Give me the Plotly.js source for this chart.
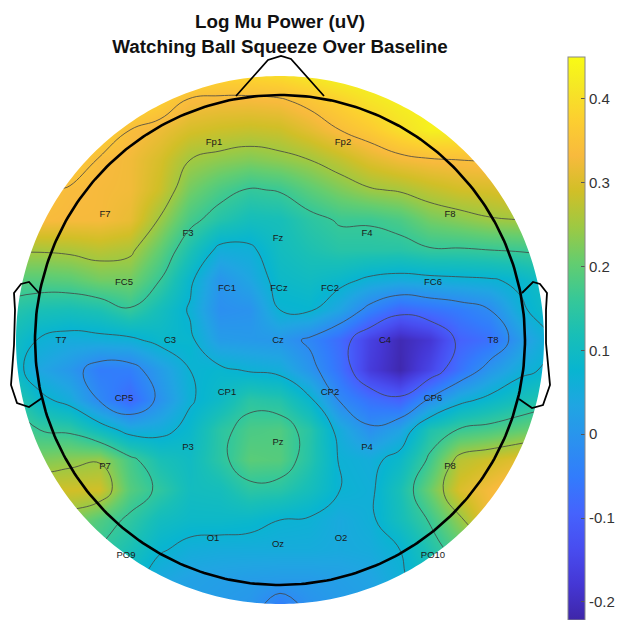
<!DOCTYPE html>
<html><head><meta charset="utf-8">
<script src="https://cdn.plot.ly/plotly-3.0.1.min.js"></script>
<style>html,body{margin:0;padding:0;background:#fff}</style></head>
<body><div id="chart" style="width:618px;height:620px"></div>
<script>
const gridX = [-270,-240,-210,-180,-150,-120,-90,-60,-30,0,30,60,90,120,150,180,210,240,270];
const gridY = [270,240,210,180,150,120,90,60,30,0,-30,-60,-90,-120,-150,-180,-210,-240,-270];
const r01 = [.42,.42,.42,.42,.42,.42,.41,.40,.40,.41,.43,.45,.45,.45,.45,.45,.45,.45,.45];
const r02 = [.42,.42,.42,.41,.40,.375,.335,.33,.33,.335,.355,.38,.41,.43,.44,.45,.45,.45,.45];
const r03 = [.40,.40,.40,.385,.34,.32,.295,.285,.28,.285,.31,.34,.365,.40,.43,.43,.43,.43,.43];
const r04 = [.38,.38,.37,.335,.325,.295,.25,.235,.225,.235,.25,.275,.305,.325,.335,.34,.345,.36,.38];
const r05 = [.36,.35,.335,.33,.325,.285,.215,.18,.155,.164,.195,.222,.245,.255,.275,.29,.295,.31,.32];
const r06 = [.34,.335,.33,.33,.315,.245,.175,.135,.11,.115,.145,.165,.165,.18,.215,.23,.245,.25,.26];
const r07 = [.255,.255,.26,.27,.26,.20,.125,.055,.06,.105,.125,.14,.14,.14,.155,.155,.16,.165,.17];
const r08 = [.19,.19,.195,.215,.215,.16,.08,.0,.035,.09,.10,.085,.06,.05,.055,.06,.065,.08,.11];
const r09 = [.14,.12,.115,.125,.155,.11,.065,-.012,-.005,.07,.075,.03,-.04,-.09,-.07,-.05,-.02,.06,.10];
const r10 = [.11,.065,.05,.055,.06,.085,.08,.015,.01,.005,-.03,-.08,-.16,-.21,-.18,-.095,-.07,.01,.07];
const r11 = [.10,.035,.005,-.05,-.045,.015,.07,.08,.065,.055,.0,-.07,-.17,-.215,-.15,-.065,.005,.055,.08];
const r12 = [.16,.085,.05,-.025,-.085,-.005,.065,.095,.145,.135,.08,-.025,-.07,-.095,-.01,.055,.085,.115,.14];
const r13 = [.19,.16,.15,.10,.05,.055,.085,.145,.18,.185,.14,.05,-.01,.03,.13,.165,.18,.20,.22];
const r14 = [.26,.225,.235,.245,.175,.12,.10,.145,.195,.19,.135,.065,.055,.09,.17,.27,.29,.31,.33];
const r15 = [.33,.29,.29,.29,.19,.15,.105,.11,.145,.14,.11,.07,.06,.12,.21,.30,.33,.36,.37];
const r16 = [.24,.24,.23,.185,.15,.105,.09,.09,.085,.07,.065,.045,.06,.11,.165,.24,.33,.36,.36];
const r17 = [.20,.19,.17,.155,.12,.075,.055,.05,.05,.05,.05,.045,.05,.07,.13,.19,.22,.24,.24];
const r18 = [.15,.15,.13,.11,.09,.04,.025,.02,.015,.012,.012,.02,.03,.06,.10,.14,.18,.20,.20];
const r19 = [.10,.10,.09,.08,.06,.04,.02,.01,0,-.06,-.01,.01,.02,.04,.07,.10,.13,.15,.15];
const zGrid = [r01,r02,r03,r04,r05,r06,r07,r08,r09,r10,r11,r12,r13,r14,r15,r16,r17,r18,r19];

const electrodes = ['Fp1','Fp2','F7','F3','Fz','F4','F8','FC5','FC1','FCz','FC2','FC6','T7','C3','Cz','C4','T8','CP5','CP1','CP2','CP6','P3','Pz','P4','P7','P8','O1','Oz','O2','PO9','PO10'];
const electrodeX = [-66,63,-175,-92,-2,87,170,-156,-53,-1,50,153,-219,-110,-2,105,213,-156,-53,50,153,-92,-2,87,-175,170,-67,-2,61,-154,153];
const electrodeY = [197,197,125,106,101,106,125,57,51,51,51,57,-1,-1,-1,-1,-1,-59,-53,-53,-59,-108,-103,-108,-127,-127,-199,-205,-199,-216,-216];

const noseX = [-44,-12,1,11,44];
const noseY = [244,280,284,281,244];
const earLeftX = [-241,-251,-259,-266,-265,-266,-269,-263,-251,-238];
const earLeftY = [47,58,56,47,30,-5,-45,-63,-67,-58];
const earRightX = [242,253,260,267,266,266,270,263,252,239];
const earRightY = [47,58,56,47,30,-3,-45,-65,-68,-59];

const colourRadius = 264, headRadius = 245;
const tickVals = [-0.2,-0.1,0,0.1,0.2,0.3,0.4];
const tickText = ['-0.2','-0.1','0','0.1','0.2','0.3','0.4'];
const zMin = -0.2215, zMax = 0.4495;

const parula = [[0,'#3e26a8'],[.0635,'#4537d5'],[.127,'#484df0'],[.19,'#4563fd'],[.254,'#327cfc'],[.317,'#2b91ef'],[.38,'#20a5e2'],[.444,'#08b5d0'],[.508,'#19bfb6'],[.571,'#37c897'],[.635,'#64cd6f'],[.698,'#9dc943'],[.762,'#d1bf27'],[.825,'#f8ba3d'],[.889,'#fccf30'],[.952,'#f5e924'],[1,'#f9fb15']];

function ring(r){const xs=[],ys=[];for(let i=0;i<=360;i++){const a=i*Math.PI/180;xs.push(r*Math.cos(a));ys.push(r*Math.sin(a));}return [xs,ys];}
const [cx,cy]=ring(colourRadius), [hx,hy]=ring(headRadius);
const L=-300,R=300,T=360,B=-300;
const maskX=[R,...cx.slice().reverse(),R,R,L,L,R,R];
const maskY=[0,...cy.slice().reverse(),0,T,T,B,B,0];

const traces=[
 {type:'heatmap',x:gridX,y:gridY,z:zGrid,zsmooth:'best',colorscale:parula,zmin:zMin,zmax:zMax,
  colorbar:{x:568/618,xanchor:'left',y:0,yanchor:'bottom',lenmode:'pixels',len:562.5,thicknessmode:'pixels',thickness:17,xpad:0,ypad:0,
   tickmode:'array',tickvals:tickVals,ticktext:tickText,ticks:'inside',ticklen:4,tickcolor:'#555',tickwidth:1,outlinecolor:'#888',outlinewidth:1,
   tickfont:{family:'"Liberation Sans",Arial,sans-serif',size:15,color:'#333'}},hoverinfo:'skip'},
 {type:'contour',x:gridX,y:gridY,z:zGrid,showscale:false,autocontour:false,
  contours:{coloring:'none',start:-0.11,end:0.34,size:0.09,showlabels:false},line:{color:'#444',width:0.8,smoothing:1.3},hoverinfo:'skip'},
 {type:'scatter',mode:'none',x:maskX,y:maskY,fill:'toself',fillcolor:'#fff',hoverinfo:'skip'},
 {type:'scatter',mode:'lines',x:hx,y:hy,line:{color:'#000',width:2.6},hoverinfo:'skip'},
 {type:'scatter',mode:'lines',x:noseX,y:noseY,line:{color:'#000',width:1.8},hoverinfo:'skip'},
 {type:'scatter',mode:'lines',x:earLeftX,y:earLeftY,line:{color:'#000',width:1.8},hoverinfo:'skip'},
 {type:'scatter',mode:'lines',x:earRightX,y:earRightY,line:{color:'#000',width:1.8},hoverinfo:'skip'},
 {type:'scatter',mode:'text',x:electrodeX,y:electrodeY,text:electrodes,textposition:'middle center',
  textfont:{family:'"Liberation Sans",Arial,sans-serif',size:9.5,color:'#1a1a1a'},hoverinfo:'skip'}
];
const layout={
 width:618,height:620,showlegend:false,paper_bgcolor:'#fff',plot_bgcolor:'#fff',
 margin:{l:0,r:0,t:0,b:0,autoexpand:false},
 title:{text:'Log Mu Power (uV)<br>Watching Ball Squeeze Over Baseline',x:280/618,xanchor:'center',y:0.9545,yanchor:'middle',
  font:{family:'"Liberation Sans",Arial,sans-serif',size:18.8,weight:700,color:'#111'}},
 xaxis:{domain:[0,556/618],range:[-280,276],visible:false,fixedrange:true},
 yaxis:{domain:[0,1],range:[-280,340],visible:false,fixedrange:true}
};
Plotly.newPlot('chart',traces,layout,{displayModeBar:false,staticPlot:true});
</script></body></html>
